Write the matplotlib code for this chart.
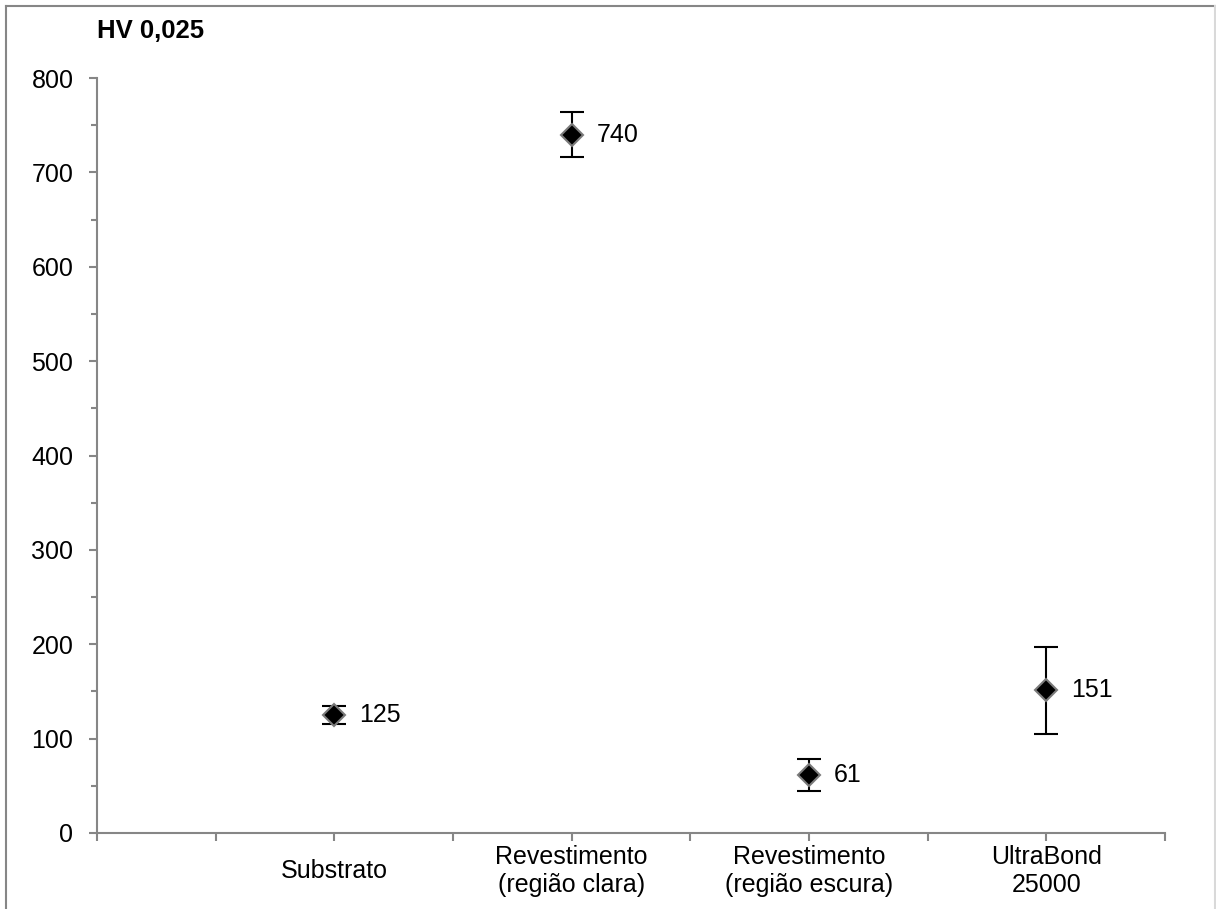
import matplotlib
matplotlib.use("Agg")
import matplotlib.pyplot as plt
from matplotlib.lines import Line2D
from matplotlib.ticker import MultipleLocator

plt.rcParams["font.family"] = ["Liberation Sans", "DejaVu Sans"]

# Vickers hardness HV 0,025 per region
categories = ["Substrato", "Revestimento\n(região clara)",
              "Revestimento\n(região escura)", "UltraBond\n25000"]
positions = [2, 4, 6, 8]
hardness = [125, 740, 61, 151]
deviation = [10, 24, 17, 46]

AXIS_GRAY = "#868686"
FONT_SIZE = 18

fig = plt.figure(figsize=(12.16, 9.09), dpi=100)
ax = fig.add_axes([97 / 1216, 76 / 909, 1068 / 1216, 755 / 909])

ax.errorbar(positions, hardness, yerr=deviation, fmt="D", color="black",
            markersize=11, markerfacecolor="black", markeredgecolor="#7a7a7a",
            markeredgewidth=1.5, ecolor="black", elinewidth=1.5,
            capsize=8.5, capthick=1.5, zorder=3)

for x, y in zip(positions, hardness):
    ax.annotate(str(y), (x, y), xytext=(18, 0), textcoords="offset points",
                ha="left", va="center", fontsize=FONT_SIZE)

ax.set_xlim(0, 9)
ax.set_ylim(0, 800)

ax.set_xticks(positions)
ax.set_xticklabels(categories, fontsize=FONT_SIZE, linespacing=1.22)
plt.setp(ax.get_xticklabels(), va="center")
ax.xaxis.set_minor_locator(MultipleLocator(1))
ax.yaxis.set_major_locator(MultipleLocator(100))
ax.yaxis.set_minor_locator(MultipleLocator(50))

ax.tick_params(axis="x", which="both", direction="out", length=6,
               width=1.5, color=AXIS_GRAY, pad=21.5)
ax.tick_params(axis="y", which="major", direction="out", length=6,
               width=1.5, color=AXIS_GRAY, pad=11, labelsize=FONT_SIZE)
ax.tick_params(axis="y", which="minor", direction="out", length=4.5,
               width=1.5, color=AXIS_GRAY)

for side in ["top", "right"]:
    ax.spines[side].set_visible(False)
for side in ["left", "bottom"]:
    ax.spines[side].set_color(AXIS_GRAY)
    ax.spines[side].set_linewidth(1.5)

fig.text(97 / 1216, 1 - 38 / 909, "HV 0,025", fontsize=18.5,
         fontweight="bold", ha="left", va="baseline")

# chart area frame
W, H = 1216, 909
fig.add_artist(Line2D([6 / W, 6 / W], [0, 1 - 6 / H], color=AXIS_GRAY, lw=1.5))
fig.add_artist(Line2D([6 / W, 1215 / W], [1 - 6 / H, 1 - 6 / H], color=AXIS_GRAY, lw=1.5))
fig.add_artist(Line2D([1215 / W, 1215 / W], [0, 1 - 6 / H], color="#d9d9d9", lw=1.5))

fig.savefig("out.png", dpi=100, facecolor="white")
